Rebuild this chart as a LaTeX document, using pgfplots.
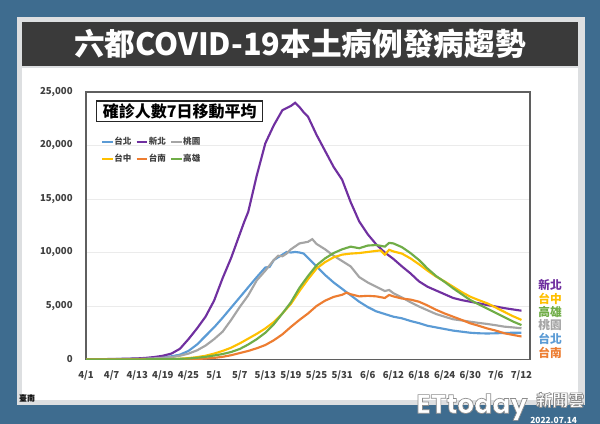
\documentclass[border=0pt]{standalone}
\usepackage{fontspec}
\setmainfont{Noto Sans CJK TC}
\newfontfamily\etfont{Poppins}
\usepackage{pgfplots}
\pgfplotsset{compat=1.18}
\definecolor{bgblue}{RGB}{62,108,143}
\definecolor{panel}{RGB}{221,223,225}
\definecolor{titlebar}{RGB}{58,58,58}
\definecolor{cTaipei}{RGB}{91,155,213}
\definecolor{cNewTaipei}{RGB}{112,48,160}
\definecolor{cTaoyuan}{RGB}{165,165,165}
\definecolor{cTaichung}{RGB}{255,192,0}
\definecolor{cTainan}{RGB}{237,125,49}
\definecolor{cKaohsiung}{RGB}{112,173,71}
\definecolor{ticktext}{RGB}{64,64,64}
\definecolor{axisgray}{RGB}{95,95,95}
\definecolor{gridgray}{RGB}{235,235,235}
\newcommand\outlined[1]{\special{pdf:literal direct 2 Tr 0.5 w 0.55 G}#1\special{pdf:literal direct 0 Tr}}
\begin{document}
\begin{tikzpicture}[x=0.75pt,y=0.75pt]
% backgrounds
\fill[bgblue] (0,0) rectangle (600,424);
\fill[panel] (17,19) rectangle (585,407);
\fill[white] (22,24) rectangle (578,356);
\fill[titlebar] (22,358) rectangle (578,402);
\node[text=white,font=\fontsize{23}{23}\selectfont\bfseries] at (300,380) {六都COVID-19本土病例發病趨勢};
\begin{axis}[
  at={(64.5pt,48.375pt)}, anchor=south west,
  width=333pt, height=200.6pt, scale only axis,
  xmin=0, xmax=104, ymin=0, ymax=25000,
  scaled y ticks=false,
  axis line style={draw=axisgray, line width=1.1pt},
  xtick={0,6,...,102},
  xticklabels={4/1,4/7,4/13,4/19,4/25,5/1,5/7,5/13,5/19,5/25,5/31,6/6,6/12,6/18,6/24,6/30,7/6,7/12},
  ytick={0,5000,10000,15000,20000,25000},
  yticklabels={0,{5,000},{10,000},{15,000},{20,000},{25,000}},
  major tick length=0pt,
  ymajorgrids, grid style={draw=gridgray, line width=0.6pt},
  tick label style={font=\fontsize{7.2}{8}\selectfont\bfseries, text=ticktext},
  xticklabel style={yshift=-5pt},
  yticklabel style={xshift=-6.5pt},
  every axis plot/.append style={line width=1.6pt, no markers},
  legend columns=3,
  legend style={at={(axis description cs:0.025,0.845)}, anchor=north west,
    draw=none, fill=none, font=\fontsize{6.4}{7}\selectfont\bfseries, text=ticktext,
    nodes={inner xsep=0.5pt, inner ysep=0.8pt},
    /tikz/every even column/.append style={column sep=2.7pt}, row sep=4pt},
  legend image code/.code={\draw[#1, line width=1.3pt] (0pt,0pt) -- (8pt,0pt);},
]
% 台北
\addplot[cTaipei] coordinates {(0,15)(2,20)(4,25)(6,35)(8,45)(10,60)(12,80)(14,110)(16,150)(18,210)(20,300)(22,450)(24,800)(26,1400)(28,2200)(30,3000)(32,3900)(34,4850)(36,5800)(38,6750)(40,7700)(42,8600)(43,8650)(44,9300)(46,9800)(47,10050)(48,10000)(49,10050)(50,10000)(51,9900)(52,9500)(54,8700)(56,7900)(58,7200)(60,6600)(62,6000)(64,5400)(66,4900)(68,4500)(70,4250)(72,4000)(74,3850)(76,3600)(78,3400)(80,3150)(82,3000)(84,2850)(86,2700)(88,2600)(90,2500)(92,2450)(94,2430)(96,2450)(98,2480)(100,2500)(102,2500)};
\addlegendentry{台北}
% 新北
\addplot[cNewTaipei] coordinates {(0,20)(2,25)(4,35)(6,45)(8,60)(10,80)(12,100)(14,150)(16,230)(18,350)(20,550)(22,1000)(24,1900)(26,2900)(28,4000)(30,5500)(32,7600)(34,9500)(36,11700)(37,12800)(38,13800)(40,17200)(42,20200)(44,21900)(46,23300)(48,23700)(49,24000)(50,23600)(51,23100)(52,22700)(54,21000)(56,19500)(58,18000)(60,16800)(62,14700)(64,12900)(66,11700)(68,10750)(70,10000)(72,9400)(74,8700)(76,8050)(78,7300)(80,6800)(82,6450)(84,6100)(86,5750)(88,5550)(90,5400)(92,5250)(94,5090)(96,4950)(98,4800)(100,4680)(102,4560)};
\addlegendentry{新北}
% 桃園
\addplot[cTaoyuan] coordinates {(0,10)(4,15)(8,25)(12,50)(16,110)(20,220)(22,350)(24,550)(26,850)(28,1300)(30,1900)(32,2600)(34,3700)(36,4900)(38,6000)(40,7400)(42,8300)(44,9300)(45,9700)(46,9650)(47,9900)(48,10300)(50,10850)(52,11000)(53,11250)(54,10800)(55,10550)(56,10300)(58,9700)(60,9200)(62,8700)(64,7700)(66,7200)(68,6800)(70,6400)(71,6500)(72,6200)(74,5800)(76,5350)(78,4950)(80,4600)(82,4250)(84,4000)(86,3760)(88,3650)(90,3530)(92,3420)(94,3320)(96,3200)(98,3070)(100,3000)(102,2920)};
\addlegendentry{桃園}
% 台中
\addplot[cTaichung] coordinates {(0,5)(10,10)(16,20)(20,40)(22,70)(24,130)(26,220)(28,350)(30,550)(32,800)(34,1100)(36,1500)(38,1950)(40,2400)(42,2900)(44,3500)(46,4300)(48,5200)(50,6400)(52,7500)(54,8500)(56,9100)(58,9550)(60,9800)(62,9900)(64,9950)(66,10050)(68,10150)(69,10200)(70,9800)(71,10250)(72,10100)(74,9900)(76,9450)(78,8900)(80,8300)(82,7750)(84,7300)(86,6800)(88,6300)(90,5870)(92,5550)(94,5250)(96,4850)(98,4450)(100,4050)(102,3700)};
\addlegendentry{台中}
% 台南
\addplot[cTainan] coordinates {(0,5)(10,10)(16,15)(20,20)(24,30)(26,50)(28,90)(30,150)(32,250)(34,400)(36,600)(38,800)(40,1050)(42,1350)(44,1800)(46,2350)(48,3050)(50,3700)(52,4300)(54,5000)(56,5500)(58,5850)(60,6050)(61,6250)(62,6100)(64,5900)(66,5950)(68,5900)(70,5750)(71,6030)(72,5900)(74,5700)(76,5600)(78,5400)(80,5050)(82,4650)(84,4300)(86,4000)(88,3700)(90,3380)(92,3150)(94,2900)(96,2700)(98,2450)(100,2300)(102,2150)};
\addlegendentry{台南}
% 高雄
\addplot[cKaohsiung] coordinates {(0,5)(10,10)(16,20)(20,35)(24,90)(26,160)(28,250)(30,370)(32,510)(34,700)(36,980)(38,1400)(40,1900)(42,2500)(44,3300)(46,4300)(48,5350)(50,6700)(52,7800)(54,8800)(56,9450)(58,9950)(60,10300)(62,10550)(64,10400)(66,10650)(68,10700)(70,10550)(71,10900)(72,10850)(74,10500)(76,9950)(78,9300)(80,8500)(82,7800)(84,7250)(86,6650)(88,6100)(90,5560)(92,5150)(94,4750)(96,4350)(98,3950)(100,3550)(102,3220)};
\addlegendentry{高雄}
\node[draw=black!85, line width=1.1pt, fill=white, inner sep=0pt,
  minimum width=124.5pt, minimum height=15.5pt,
  font=\fontsize{12}{12}\selectfont\bfseries]
  at (axis description cs:0.211,0.9277) {確診人數7日移動平均};
\end{axis}
% right-hand labels
\begin{scope}[font=\fontsize{8.8}{9}\selectfont\bfseries]
\node[text=cNewTaipei] at (550,139) {新北};
\node[text=cTaichung] at (550,125.5) {台中};
\node[text=cKaohsiung] at (550,112) {高雄};
\node[text=cTaoyuan] at (550,98.5) {桃園};
\node[text=cTaipei] at (550,85) {台北};
\node[text=cTainan] at (550,71.5) {台南};
\end{scope}
% watermark
\node[text=white, font=\etfont\bfseries\fontsize{20}{20}\selectfont, anchor=west, inner sep=0pt] at (416,17) {\outlined{ETtoday}};
\node[text=white, font=\fontsize{12}{12}\selectfont\bfseries, anchor=west, inner sep=0pt] at (536,24) {\outlined{新聞雲}};
\node[text=white, font=\fontsize{6.3}{6.3}\selectfont\bfseries, anchor=west, inner sep=0pt] at (530,3.5) {2022.07.14};
\node[text=black, font=\fontsize{6}{6}\selectfont\bfseries] at (27,26) {臺南};
\end{tikzpicture}
\end{document}
